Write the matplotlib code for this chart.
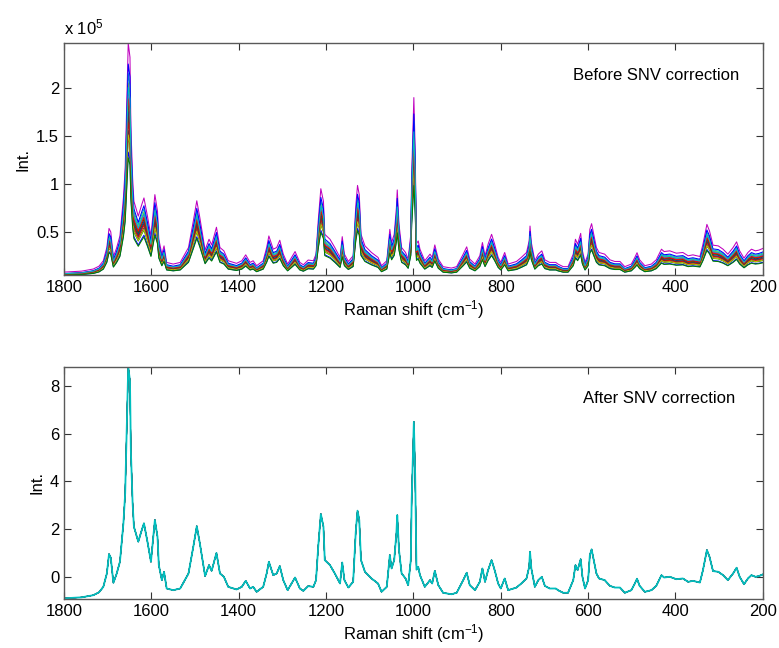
import numpy as np
import matplotlib.pyplot as plt
from matplotlib.ticker import FuncFormatter

plt.rcParams['font.family'] = ['Liberation Sans', 'DejaVu Sans']
plt.rcParams['mathtext.fontset'] = 'custom'
plt.rcParams['mathtext.rm'] = 'Liberation Sans'
plt.rcParams['mathtext.it'] = 'Liberation Sans'

# Mean SNV-corrected spectrum (Raman shift, intensity)
shift = [1800, 1760, 1733, 1720, 1710, 1702, 1697, 1693, 1687, 1680, 1672, 1664,
         1660, 1656, 1653, 1649, 1647, 1643, 1640, 1630, 1622, 1617, 1609, 1601,
         1592, 1586, 1583, 1576, 1571, 1565, 1550, 1534, 1515, 1504, 1496, 1489,
         1477, 1468, 1462, 1451, 1443, 1434, 1424, 1405, 1393, 1384, 1374, 1367,
         1359, 1344, 1336, 1331, 1321, 1313, 1306, 1298, 1288, 1279, 1271, 1260,
         1252, 1241, 1229, 1223, 1218, 1212, 1206, 1203, 1191, 1180, 1168, 1163,
         1158, 1149, 1138, 1132, 1128, 1124, 1120, 1111, 1096, 1081, 1073, 1061,
         1056, 1054, 1050, 1044, 1039, 1037, 1033, 1027, 1018, 1012, 1006, 1004,
         999, 996, 993, 989, 985, 974, 962, 957, 951, 943, 932, 913, 901, 886,
         878, 871, 859, 848, 842, 836, 829, 821, 814, 806, 800, 791, 783, 764,
         753, 741, 735, 733, 730, 722, 714, 706, 699, 688, 674, 669, 657, 646,
         634, 629, 624, 617, 613, 607, 600, 596, 592, 587, 581, 575, 562, 550,
         539, 527, 516, 501, 493, 488, 482, 470, 455, 444, 432, 426, 413, 398,
         383, 371, 360, 344, 337, 328, 322, 314, 302, 291, 280, 268, 260, 253,
         243, 234, 226, 217, 209, 200]
snv = [-0.90, -0.86, -0.77, -0.65, -0.42, 0.14, 0.95, 0.80, -0.25, 0.10, 0.63, 2.25,
       3.50, 6.60, 8.80, 8.20, 5.30, 3.10, 2.10, 1.47, 1.96, 2.24, 1.47, 0.63,
       2.38, 1.68, 0.49, -0.14, 0.21, -0.49, -0.56, -0.49, 0.14, 1.26, 2.12, 1.40,
       0.03, 0.49, 0.25, 1.00, 0.14, 0.00, -0.42, -0.53, -0.42, -0.17, -0.49, -0.42,
       -0.63, -0.42, 0.14, 0.63, 0.07, 0.14, 0.45, -0.14, -0.56, -0.28, -0.03, -0.49,
       -0.59, -0.39, -0.42, -0.14, 1.26, 2.63, 2.10, 0.70, 0.49, 0.14, -0.28, 0.60,
       -0.14, -0.45, -0.21, 1.89, 2.77, 2.38, 0.70, 0.21, -0.07, -0.28, -0.63, -0.42,
       0.56, 0.91, 0.35, 0.70, 1.82, 2.58, 1.12, 0.14, -0.07, -0.35, 0.70, 3.20,
       6.49, 4.30, 0.30, 0.42, 0.07, -0.42, -0.14, -0.28, 0.25, -0.35, -0.67, -0.73, -0.67, -0.14,
       0.17, -0.35, -0.56, -0.21, 0.35, -0.21, 0.28, 0.70, 0.28, -0.28, -0.49, -0.07, -0.56, -0.45,
       -0.28, -0.07, 0.42, 1.05, 0.35, -0.42, -0.14, 0.00, -0.38, -0.49, -0.49, -0.56, -0.67, -0.67,
       -0.14, 0.49, 0.28, 0.74, 0.00, -0.49, -0.14, 0.91, 1.15, 0.70, 0.14, -0.07, -0.14, -0.38,
       -0.45, -0.45, -0.67, -0.56, -0.28, -0.08, -0.38, -0.63, -0.56, -0.38, 0.07, -0.03, 0.00, -0.10,
       -0.07, -0.21, -0.17, -0.24, 0.28, 1.12, 0.84, 0.24, 0.21, 0.07, -0.14, 0.14, 0.38, 0.00,
       -0.31, -0.07, 0.07, 0.00, 0.03, 0.10]

# per-spectrum standard deviation and mean of the raw spectra
spec_std = [17500, 14800, 16200, 19000, 24600, 20500, 15500, 13200, 18200,
            16800, 21500, 19800, 15000, 17000, 22500, 12600, 18800, 20000]
spec_mean = [22300, 19100, 20800, 23600, 30600, 25200, 19700, 17300, 22900,
             20900, 26100, 24300, 19400, 21500, 27200, 16800, 23400, 24800]

# MATLAB default colour order
colors = [(0, 0, 1), (0, 0.5, 0), (1, 0, 0), (0, 0.75, 0.75),
          (0.75, 0, 0.75), (0.75, 0.75, 0), (0.25, 0.25, 0.25)]

x = np.array(shift)
z = np.array(snv)
raw = [z * s + m for s, m in zip(spec_std, spec_mean)]
corrected = [(r - m) / s for r, s, m in zip(raw, spec_std, spec_mean)]

fig = plt.figure(figsize=(7.79, 6.48), dpi=100)
ax1 = fig.add_axes([0.0822, 0.5756, 0.897, 0.358])
ax2 = fig.add_axes([0.0822, 0.0756, 0.897, 0.3585])

n = len(raw)
for i, r in enumerate(raw):
    ax1.plot(x, r, color=colors[i % 7], lw=0.75)
for i, c in enumerate(corrected):
    # last trace sits on top, as in the original
    ax2.plot(x, c, color=colors[i % 7], lw=1.3 if i == n - 1 else 0.6)

allraw = np.concatenate(raw)
allcor = np.concatenate(corrected)
ax1.set_ylim(allraw.min(), allraw.max())
ax2.set_ylim(allcor.min() - 0.03, allcor.max())
ax1.set_yticks([0.5e5, 1e5, 1.5e5, 2e5])
ax1.yaxis.set_major_formatter(FuncFormatter(lambda v, p: '%g' % (v / 1e5)))
ax2.set_yticks([0, 2, 4, 6, 8])

for ax in (ax1, ax2):
    ax.set_xlim(1800, 200)
    ax.set_xticks(np.arange(1800, 199, -200))
    ax.tick_params(direction='in', top=True, right=True, length=5,
                   labelsize=12, color='0.2', labelcolor='black')
    for sp in ax.spines.values():
        sp.set_color('0.35')
        sp.set_linewidth(1.0)
    ax.set_xlabel('Raman shift (cm$^{-1}$)', fontsize=12, labelpad=2)
    ax.set_ylabel('Int.', fontsize=12, labelpad=4)

fig.text(0.0822, 0.942, 'x 10$^{5}$', fontsize=12, ha='left', va='bottom')
ax1.text(0.967, 0.862, 'Before SNV correction', transform=ax1.transAxes,
         ha='right', va='center', fontsize=12)
ax2.text(0.96, 0.865, 'After SNV correction', transform=ax2.transAxes,
         ha='right', va='center', fontsize=12)

fig.savefig('out.png', dpi=100)
